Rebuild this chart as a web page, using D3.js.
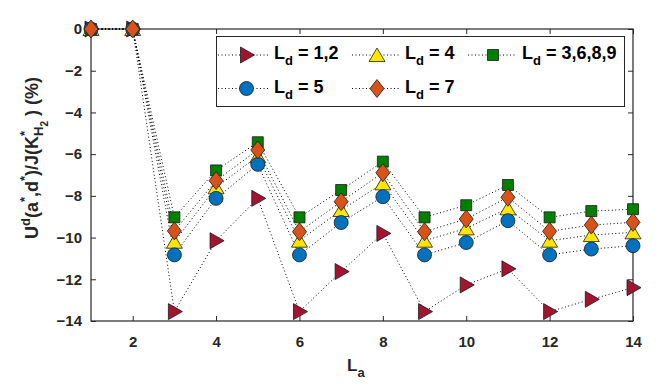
<!DOCTYPE html>
<html>
<head>
<meta charset="utf-8">
<script src="https://cdn.jsdelivr.net/npm/d3@7"></script>
<style>
body { margin: 0; background: #fff; }
svg { font-family: "Liberation Sans", Arial, sans-serif; font-weight: bold; }
</style>
</head>
<body>
<div id="chart"></div>
<script>
// x positions (L_a)
var la = [1, 2, 3, 4, 5, 6, 7, 8, 9, 10, 11, 12, 13, 14];

// U values (%) per L_d group
var ld12 = [0, 0, -13.55, -10.15, -8.12, -13.55, -11.63, -9.8, -13.55, -12.27, -11.5, -13.55, -12.96, -12.4];
var ld4 = [0, 0, -10.2, -7.59, -6.1, -10.15, -8.68, -7.4, -10.15, -9.56, -8.6, -10.15, -9.88, -9.75];
var ld3689 = [0, 0, -9.03, -6.78, -5.43, -9.03, -7.72, -6.36, -9.03, -8.45, -7.48, -9.03, -8.73, -8.64];
var ld5 = [0, 0, -10.83, -8.12, -6.49, -10.83, -9.28, -8.04, -10.83, -10.24, -9.19, -10.83, -10.55, -10.39];
var ld7 = [0, 0, -9.68, -7.27, -5.8, -9.72, -8.28, -6.89, -9.72, -9.11, -8.07, -9.7, -9.4, -9.27];

var xTicks = [2, 4, 6, 8, 10, 12, 14];
var yTicks = [0, -2, -4, -6, -8, -10, -12, -14];

var series = [
  {name: "1,2", values: ld12, shape: "right", color: "#A2142F"},
  {name: "4", values: ld4, shape: "up", color: "#FFE600"},
  {name: "3,6,8,9", values: ld3689, shape: "square", color: "#008000"},
  {name: "5", values: ld5, shape: "circle", color: "#0072BD"},
  {name: "7", values: ld7, shape: "diamond", color: "#D95319"}
];

var W = 661, H = 388;
var margin = {top: 29, right: 28, bottom: 67, left: 91};
var width = W - margin.left - margin.right,
    height = H - margin.top - margin.bottom;

var x = d3.scaleLinear().domain([1, 14]).range([0, width]);
var y = d3.scaleLinear().domain([-14, 0]).range([height, 0]);

var svg = d3.select("#chart").append("svg")
    .attr("width", W)
    .attr("height", H);

var g = svg.append("g")
    .attr("transform", "translate(" + margin.left + "," + margin.top + ")");

var axisColor = "#262626";

function markerPath(shape) {
  switch (shape) {
    case "right": return "M-6,-8L8,0L-6,8Z";
    case "up": return "M0,-7L8,6.5L-8,6.5Z";
    case "square": return "M-5.5,-5.5H5.5V5.5H-5.5Z";
    case "diamond": return "M0,-9L7,0L0,9L-7,0Z";
    case "circle": return "M7,0A7,7 0 1,1 -7,0A7,7 0 1,1 7,0Z";
  }
}

// axes (ticks inside, box)
function styleAxis(sel, labels) {
  sel.select(".domain").remove();
  sel.selectAll(".tick line").attr("stroke", axisColor);
  sel.selectAll(".tick text")
      .attr("fill", axisColor)
      .style("font-size", "15px")
      .style("font-weight", "bold")
      .style("font-family", "Liberation Sans, Arial, sans-serif");
  if (!labels) sel.selectAll(".tick text").remove();
}

g.append("g")
    .attr("transform", "translate(0," + height + ")")
    .call(d3.axisBottom(x).tickValues(xTicks).tickSize(-5).tickPadding(15.5))
    .call(styleAxis, true);
g.append("g")
    .call(d3.axisTop(x).tickValues(xTicks).tickSize(-5))
    .call(styleAxis, false);
g.append("g")
    .call(d3.axisLeft(y).tickValues(yTicks).tickSize(-5).tickPadding(9))
    .call(styleAxis, true);
g.append("g")
    .attr("transform", "translate(" + width + ",0)")
    .call(d3.axisRight(y).tickValues(yTicks).tickSize(-5))
    .call(styleAxis, false);

g.append("rect")
    .attr("width", width)
    .attr("height", height)
    .attr("fill", "none")
    .attr("stroke", axisColor)
    .attr("stroke-width", 1.2);

var line = d3.line()
    .x(function(d, i) { return x(la[i]); })
    .y(function(d) { return y(d); });

// dotted lines first, then markers
series.forEach(function(s) {
  g.append("path")
      .attr("d", line(s.values))
      .attr("fill", "none")
      .attr("stroke", "#000")
      .attr("stroke-width", 1)
      .attr("stroke-dasharray", "1,2.5");
});

series.forEach(function(s) {
  g.selectAll(null)
      .data(s.values)
      .enter().append("path")
      .attr("d", markerPath(s.shape))
      .attr("transform", function(d, i) { return "translate(" + x(la[i]) + "," + y(d) + ")"; })
      .attr("fill", s.color)
      .attr("stroke", "#1a1a1a")
      .attr("stroke-width", 0.8);
});

// legend
var legend = svg.append("g");
legend.append("rect")
    .attr("x", 216.5).attr("y", 36.5)
    .attr("width", 408).attr("height", 70)
    .attr("fill", "#fff")
    .attr("stroke", axisColor)
    .attr("stroke-width", 1);

var legPos = [
  {lx: 218, mx: 246.5, tx: 274, ty: 55},
  {lx: 352, mx: 377, tx: 405, ty: 55},
  {lx: 468, mx: 493, tx: 522, ty: 55},
  {lx: 218, mx: 246.5, tx: 274, ty: 88.5},
  {lx: 352, mx: 377, tx: 405, ty: 88.5}
];

series.forEach(function(s, i) {
  var p = legPos[i];
  var item = legend.append("g");
  item.append("line")
      .attr("x1", p.lx).attr("x2", p.tx - 6)
      .attr("y1", p.ty).attr("y2", p.ty)
      .attr("stroke", "#000")
      .attr("stroke-dasharray", "1,2.5");
  item.append("path")
      .attr("d", markerPath(s.shape))
      .attr("transform", "translate(" + p.mx + "," + p.ty + ")")
      .attr("fill", s.color)
      .attr("stroke", "#1a1a1a")
      .attr("stroke-width", 0.8);
  var t = item.append("text")
      .attr("x", p.tx).attr("y", p.ty + 4)
      .attr("fill", "#000")
      .style("font-size", "18px");
  t.append("tspan").text("L");
  t.append("tspan").attr("dy", 6).style("font-size", "13px").text("d");
  t.append("tspan").attr("dy", -6).text(" = " + s.name);
});

// x label
var xl = svg.append("text")
    .attr("x", 347).attr("y", 371)
    .attr("fill", axisColor)
    .style("font-size", "17px");
xl.append("tspan").text("L");
xl.append("tspan").attr("dy", 6).style("font-size", "13px").text("a");

// y label
var yl = svg.append("text")
    .attr("transform", "translate(38,158) rotate(-90)")
    .attr("text-anchor", "middle")
    .attr("fill", axisColor)
    .style("font-size", "18px");
yl.append("tspan").text("U");
yl.append("tspan").attr("dy", -8).style("font-size", "13px").text("d");
yl.append("tspan").attr("dy", 8).text("(a");
yl.append("tspan").attr("dy", -9).style("font-size", "13px").text("*");
yl.append("tspan").attr("dy", 9).text(",d");
yl.append("tspan").attr("dy", -9).style("font-size", "13px").text("*");
yl.append("tspan").attr("dy", 9).text(")/J(K");
yl.append("tspan").attr("dy", -9).style("font-size", "13px").text("*");
yl.append("tspan").attr("dy", 14).attr("dx", -5).style("font-size", "13px").text("H");
yl.append("tspan").attr("dy", 5).style("font-size", "10px").text("2");
yl.append("tspan").attr("dy", -10).text(" ) (%)");
</script>
</body>
</html>
